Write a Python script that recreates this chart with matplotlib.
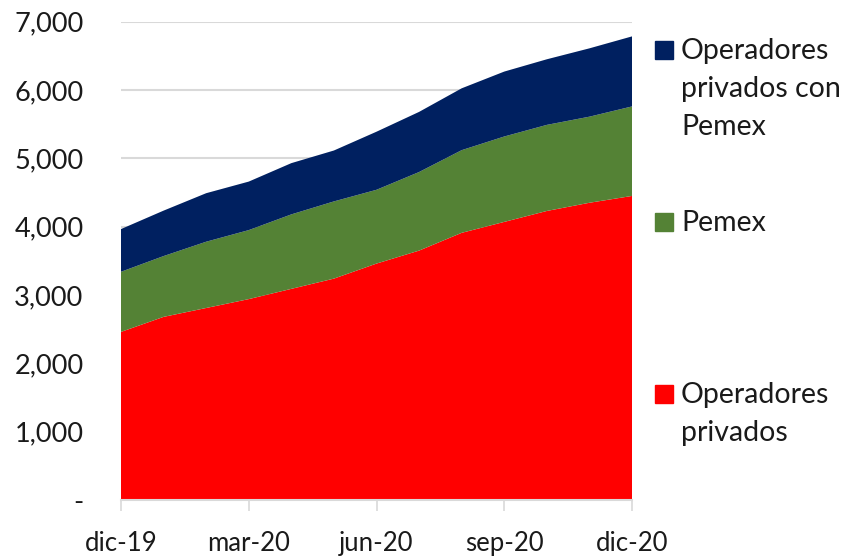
import numpy as np
import matplotlib
matplotlib.use('Agg')
import matplotlib.pyplot as plt
from matplotlib.patches import Rectangle
from matplotlib.ticker import FuncFormatter

plt.rcParams['font.family'] = ['Lato', 'DejaVu Sans']

# monthly values, dic-19 .. dic-20
months = ['dic-19', 'ene-20', 'feb-20', 'mar-20', 'abr-20', 'may-20', 'jun-20',
          'jul-20', 'ago-20', 'sep-20', 'oct-20', 'nov-20', 'dic-20']
privados = [2460, 2680, 2810, 2940, 3090, 3240, 3460, 3650, 3910, 4070, 4230, 4350, 4450]
pemex = [880, 890, 970, 1010, 1090, 1130, 1080, 1150, 1210, 1250, 1260, 1260, 1310]
privados_pemex = [625, 665, 710, 710, 750, 745, 850, 880, 905, 950, 960, 1000, 1025]

labels = ['Operadores\nprivados', 'Pemex', 'Operadores\nprivados con\nPemex']
colors = ['#FF0000', '#548235', '#002060']

W, H = 848, 558
fig = plt.figure(figsize=(W/100, H/100), dpi=100)
ax = fig.add_axes([121/W, 1-500/H, (632-121)/W, (500-21.7)/H])

x = np.arange(len(months))
ax.stackplot(x, privados, pemex, privados_pemex, colors=colors, linewidth=0)

ax.set_xlim(0, len(months)-1)
ax.set_ylim(0, 7000)
ax.set_yticks(np.arange(0, 7001, 1000))
ax.yaxis.set_major_formatter(FuncFormatter(lambda v, p: '-' if v == 0 else f'{v:,.0f}'))
ax.set_xticks(x[::3])
ax.set_xticklabels(months[::3])

ax.grid(axis='y', color='#D9D9D9', linewidth=1.5)
ax.set_axisbelow(True)
for s in ['left', 'right', 'top']:
    ax.spines[s].set_visible(False)
ax.spines['bottom'].set_color('#D9D9D9')
ax.spines['bottom'].set_linewidth(1.5)
ax.spines['bottom'].set_zorder(3)
ax.tick_params(axis='y', length=0, pad=27, labelsize=19.5, colors='#1a1a1a')
ax.tick_params(axis='x', length=8, width=1.2, color='#D9D9D9', pad=14.5,
               labelsize=18.5, labelcolor='#1a1a1a')

# legend entries, placed like the original (square top, first baseline)
leg = [(2, 41, 59), (1, 213, 231), (0, 385, 403)]
for i, top, base in leg:
    fig.add_artist(Rectangle((655/W, 1-(top+18)/H), 18/W, 18/H,
                             transform=fig.transFigure, color=colors[i]))
    for k, line in enumerate(labels[i].split('\n')):
        fig.text(681/W, 1-(base+38*k)/H, line, fontsize=20.5,
                 color='#1a1a1a', va='baseline', ha='left')

fig.savefig('out.png', dpi=100)
